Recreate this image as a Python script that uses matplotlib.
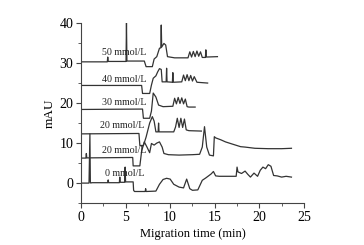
"Stacked electropherograms at different buffer concentrations."

import matplotlib
matplotlib.use("Agg")
import matplotlib.pyplot as plt
from matplotlib.ticker import MultipleLocator

# 0 mmol/L trace
t_0 = [0, 0.9, 1.0, 1.05, 1.1, 1.2, 3.0, 3.05, 3.1, 4.3, 4.35, 4.4, 4.9, 4.95, 5.0,
       5.85, 5.9, 6.0, 7.2, 7.25, 7.3, 8.4, 8.8, 9.2, 9.6, 10.0, 10.4, 11.0, 11.5,
       11.85, 12.2, 12.5, 13.1, 13.6, 14.0, 14.6, 14.85, 15.1, 15.5, 17.4, 17.5,
       17.6, 18.0, 18.4, 18.7, 19.0, 19.4, 19.8, 20.1, 20.4, 20.7, 21.0, 21.3,
       21.6, 22.0, 22.5, 23.0, 23.6]
sig_0 = [0, 0, 12.3, 0.2, 0, 0.1, 0.1, 0.8, 0.1, 0.1, 1.5, 0.2, 0.2, 4.0, 0.3,
         0.3, -1.8, -2.1, -2.1, -1.4, -2.1, -2.0, -0.3, 0.9, 1.2, 1.0, -0.3, -1.0,
         -1.2, 1.0, -1.4, -1.8, -1.7, 0.7, 1.3, 2.3, 2.9, 1.8, 1.7, 1.7, 4.0,
         2.8, 2.4, 3.0, 2.2, 1.5, 2.5, 1.7, 3.2, 4.0, 3.6, 4.6, 4.2, 1.9, 1.8,
         1.5, 1.7, 1.5]

# lower 20 mmol/L trace
t_20a = [0, 0.55, 0.6, 0.65, 5.8, 5.85, 6.6, 6.8, 7.1, 7.4, 7.7, 7.9, 8.2, 8.5,
         8.8, 9.1, 9.3, 9.8, 11.0, 12.5, 13.3, 13.6, 13.85, 14.1, 14.4, 14.85,
         14.95, 15.1, 15.7, 16.2, 16.9, 17.9, 18.4, 19.5, 21.0, 22.5, 23.6]
sig_20a = [6.25, 6.25, 7.4, 6.3, 6.4, 4.3, 4.3, 8.0, 10.3, 9.0, 7.6, 9.9, 9.5,
           10.0, 10.3, 9.0, 7.4, 7.1, 7.0, 7.1, 7.2, 9.0, 14.1, 9.0, 7.0, 6.8,
           11.6, 11.3, 10.8, 10.3, 9.8, 9.1, 9.0, 8.7, 8.6, 8.6, 8.7]

# upper 20 mmol/L trace
t_20b = [0, 6.5, 6.6, 7.0, 7.3, 7.7, 8.0, 8.2, 8.4, 8.65, 8.7, 8.75, 10.4,
         10.6, 10.8, 11.0, 11.2, 11.4, 11.6, 11.8, 12.1, 13.5]
sig_20b = [12.3, 12.4, 9.4, 9.4, 11.5, 15.0, 16.6, 15.5, 12.8, 12.8, 15.0, 12.8,
           12.8, 14.0, 16.2, 13.9, 16.2, 13.9, 16.0, 13.3, 13.1, 13.0]

# 30 mmol/L trace
t_30 = [0, 6.9, 7.0, 7.7, 7.9, 8.1, 8.4, 8.7, 9.2, 10.3, 10.5, 10.7, 10.9, 11.1,
        11.3, 11.5, 11.7, 11.9, 12.1, 12.8]
sig_30 = [18.4, 18.5, 16.2, 16.2, 18.0, 22.5, 21.5, 19.5, 19.1, 19.2, 21.2, 19.8,
          21.4, 19.9, 21.3, 19.8, 21.0, 19.1, 19.0, 19.0]

# 40 mmol/L trace
t_40 = [0, 6.8, 6.9, 7.7, 7.9, 8.1, 8.4, 8.6, 8.8, 9.0, 9.1, 9.55, 9.6, 9.65,
        10.25, 10.3, 10.35, 11.3, 11.5, 11.7, 11.9, 12.1, 12.3, 12.5, 12.7, 13.0,
        14.2]
sig_40 = [24.4, 24.4, 22.4, 22.4, 24.5, 26.2, 26.8, 27.8, 28.6, 28.4, 25.3, 25.3,
          28.7, 25.3, 25.2, 27.6, 25.2, 25.3, 27.0, 25.6, 27.1, 25.6, 26.9, 25.5,
          26.6, 25.2, 25.0]

# 50 mmol/L trace
t_50 = [0, 2.95, 3.0, 3.05, 5.05, 5.1, 5.15, 7.1, 7.3, 8.0, 8.2, 8.5, 8.8, 8.95,
        9.0, 9.05, 9.3, 9.5, 9.7, 10.5, 12.0, 12.2, 12.4, 12.6, 12.8, 13.0, 13.2,
        13.4, 13.6, 13.95, 14.0, 14.05, 15.3]
sig_50 = [30.3, 30.3, 31.5, 30.4, 30.4, 40.0, 30.5, 30.5, 29.1, 29.1, 31.0, 31.6,
          33.7, 33.8, 39.5, 34.0, 34.9, 34.5, 31.6, 31.3, 31.3, 32.8, 31.5, 32.9,
          31.6, 33.0, 31.7, 32.8, 31.4, 31.4, 33.3, 31.5, 31.6]

labels = ["50 mmol/L", "40 mmol/L", "30 mmol/L", "20 mmol/L", "20 mmol/L", "0 mmol/L"]
label_x = [2.3, 2.3, 2.3, 2.1, 2.3, 2.7]
label_y = [32.6, 25.9, 20.1, 14.3, 8.2, 2.3]

serif = "Liberation Serif"
line_color = "#333333"

fig = plt.figure(figsize=(3.64, 2.45), dpi=100)
ax = fig.add_axes([0.2225, 0.171, 0.6125, 0.735])

for t, s in [(t_0, sig_0), (t_20a, sig_20a), (t_20b, sig_20b),
             (t_30, sig_30), (t_40, sig_40), (t_50, sig_50)]:
    ax.plot(t, s, color=line_color, lw=0.9)

for txt, x, y in zip(labels, label_x, label_y):
    ax.text(x, y, txt, fontsize=7.2, family=serif, va="center", ha="left",
            color="#222222")

ax.set_xlim(0, 25)
ax.set_ylim(-5, 40)
ax.spines["top"].set_visible(False)
ax.spines["right"].set_visible(False)
ax.spines["left"].set_color("#444444")
ax.spines["bottom"].set_color("#444444")
ax.xaxis.set_major_locator(MultipleLocator(5))
ax.xaxis.set_minor_locator(MultipleLocator(2.5))
ax.yaxis.set_major_locator(MultipleLocator(10))
ax.yaxis.set_minor_locator(MultipleLocator(5))
ax.tick_params(which="major", direction="out", length=3.5, width=0.8,
               color="#444444", labelsize=10, pad=2)
ax.tick_params(which="minor", direction="out", length=2, width=0.6,
               color="#444444")
for lbl in ax.get_xticklabels() + ax.get_yticklabels():
    lbl.set_family(serif)

ax.set_xlabel("Migration time (min)", family=serif, fontsize=9, labelpad=3)
ax.set_ylabel("mAU", family=serif, fontsize=9.5, labelpad=3)

fig.savefig("out.png", dpi=100)
